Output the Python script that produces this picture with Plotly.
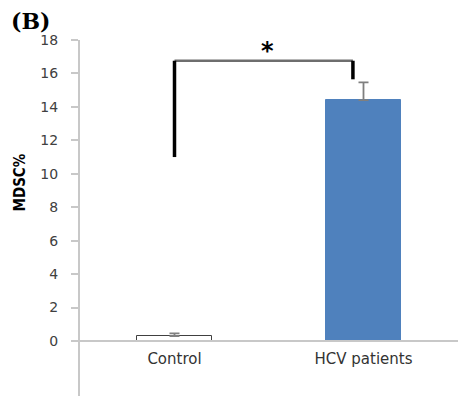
import plotly.graph_objects as go

# ---- data ----
categories = ["Control", "HCV patients"]
mdsc_mean = [0.30, 14.41]
mdsc_err = [0.15, 1.06]
y_ticks = [0, 2, 4, 6, 8, 10, 12, 14, 16, 18]
panel_label = "(B)"
y_title = "MDSC%"
sig_mark = "*"
# significance bracket levels (data units)
bracket_left_low = 11.0
bracket_top = 16.76
bracket_right_low = 15.65

x_idx = list(range(len(categories)))
bar_fill = ["#ffffff", "#4f81bd"]
bar_line = ["#404040", "#4f81bd"]

fig = go.Figure()
fig.add_trace(go.Bar(
    x=x_idx, y=mdsc_mean, width=0.4,
    marker=dict(color=bar_fill, line=dict(color=bar_line, width=1)),
    error_y=dict(type="data", array=mdsc_err, symmetric=False, arrayminus=[0, 0],
                 color="#7f7f7f", thickness=1.8, width=5),
    showlegend=False, hoverinfo="skip",
))

axis_gray = "#c8c8c8"
fig.update_layout(
    width=459, height=396,
    margin=dict(l=80, r=1, t=40, b=0),
    paper_bgcolor="white", plot_bgcolor="white",
    bargap=0,
    xaxis=dict(
        range=[-0.5, 1.5], tickvals=x_idx, ticktext=categories,
        anchor="free", position=55 / 356,
        showline=True, linecolor=axis_gray, linewidth=2,
        ticks="", showgrid=False, zeroline=False,
        tickfont=dict(family="DejaVu Sans", size=15, color="#333333"),
        ticklabelstandoff=4,
    ),
    yaxis=dict(
        range=[-55 / 16.72, 18], tickvals=y_ticks,
        showline=True, linecolor=axis_gray, linewidth=2,
        ticks="outside", ticklen=7, tickcolor=axis_gray, tickwidth=2,
        showgrid=False, zeroline=False,
        tickfont=dict(family="DejaVu Sans", size=14, color="#404040"),
        ticklabelstandoff=10,
    ),
)

# significance bracket
x_left = x_idx[0]
x_right = x_idx[1] - 0.056
fig.add_shape(type="line", xref="x", yref="y", x0=x_left, x1=x_right,
              y0=bracket_top, y1=bracket_top, line=dict(color="#6e6e6e", width=2.5))
fig.add_shape(type="line", xref="x", yref="y", x0=x_left, x1=x_left,
              y0=bracket_left_low, y1=bracket_top, line=dict(color="black", width=3.5))
fig.add_shape(type="line", xref="x", yref="y", x0=x_right, x1=x_right,
              y0=bracket_right_low, y1=bracket_top, line=dict(color="black", width=3.5))

fig.add_annotation(x=(x_left + x_right) / 2 + 0.02, y=17.55, xref="x", yref="y",
                   text=sig_mark, showarrow=False, yanchor="middle", yshift=-3,
                   font=dict(family="DejaVu Sans", size=24, color="black", weight="bold"))

fig.add_annotation(x=(30 - 80) / 378, y=(396 - 21) / 356, xref="paper", yref="paper",
                   text=f"<b>{panel_label}</b>", showarrow=False,
                   xanchor="center", yanchor="middle",
                   font=dict(family="DejaVu Serif", size=22, color="black"))

fig.add_annotation(x=(19 - 80) / 378, y=(396 - 182.5) / 356, xref="paper", yref="paper",
                   text=f"<b>{y_title}</b>", showarrow=False, textangle=-90,
                   xanchor="center", yanchor="middle",
                   font=dict(family="Liberation Sans Narrow, DejaVu Sans Condensed, Liberation Sans",
                             size=15, color="black"))

fig.write_html("out.html",
               config={"displayModeBar": False},
               post_script="document.body.style.margin='0';document.body.style.overflow='hidden';")
